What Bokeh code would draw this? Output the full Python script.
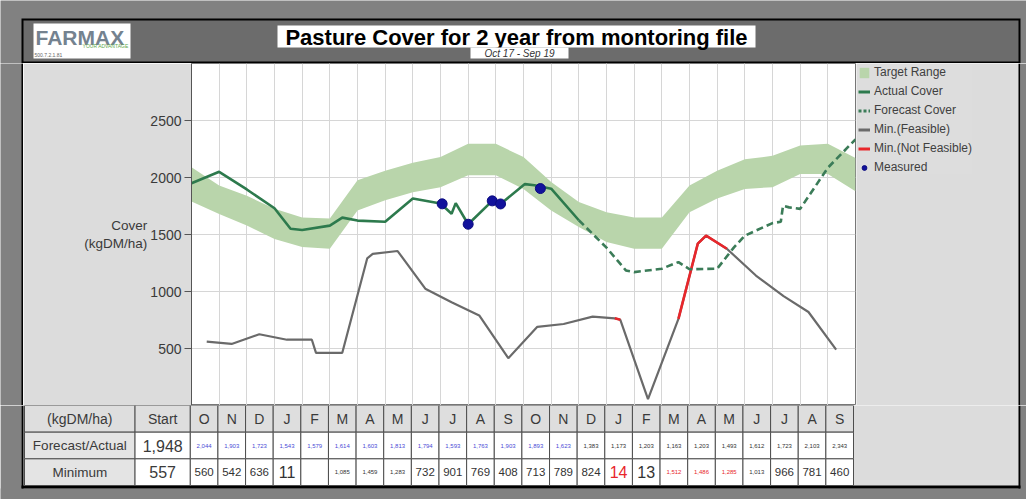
from bokeh.plotting import figure
from bokeh.layouts import column, row
from bokeh.models import (Range1d, FixedTicker, Grid, Legend, LegendItem,
                          ColumnDataSource)
from bokeh.core.properties import value
from bokeh.embed import file_html
from bokeh.resources import INLINE

FONT = "Liberation Sans"
NAN = float("nan")

# ---------------- data ----------------
month_labels = ["O", "N", "D", "J", "F", "M", "A", "M", "J", "J", "A", "S",
                "O", "N", "D", "J", "F", "M", "A", "M", "J", "J", "A", "S"]

band_x = list(range(25))
band_upper = [2090, 1930, 1840, 1725, 1650, 1640, 1975, 2060, 2130, 2180, 2295, 2295,
              2180, 1960, 1785, 1695, 1650, 1650, 1930, 2060, 2160, 2190, 2280, 2295, 2170]
band_lower = [1790, 1680, 1580, 1460, 1390, 1375, 1710, 1800, 1870, 1915, 2020, 2020,
              1900, 1710, 1565, 1435, 1375, 1375, 1695, 1815, 1900, 1915, 2030, 2030, 1880]

actual_x = [0, 1, 2, 3, 3.58, 4, 5, 5.45, 6, 7, 8, 9, 9.4, 9.55, 10, 10.87, 11.17,
            12.05, 12.4, 13, 14]
actual_y = [1950, 2050, 1895, 1730, 1550, 1540, 1578, 1648, 1622, 1612, 1815, 1772,
            1682, 1775, 1590, 1795, 1768, 1942, 1932, 1902, 1625]

forecast_x = [14, 15, 15.7, 16, 17, 17.6, 18, 19, 19.6, 20, 21, 21.3, 21.38, 21.6,
              22, 23, 24]
forecast_y = [1625, 1385, 1185, 1170, 1200, 1258, 1195, 1200, 1385, 1490, 1600, 1612,
              1752, 1738, 1725, 2085, 2335]

measured_x = [9.06, 10.0, 10.87, 11.17, 12.61]
measured_y = [1769, 1590, 1795, 1768, 1903]

min_x = [0.55, 1.45, 2.45, 3.45, 4.35, 4.5, 5.45, 6.35, 6.55, 7.45, 8.45, 9.4, 10.4,
         11.45, 12.5, 13.45, 14.5, 15.3, 15.5, 16.5, 17.6, 18.3, 18.6, 19.35, 20.4,
         21.4, 22.3, 23.3]
min_y = [560, 540, 625, 577, 577, 462, 462, 1290, 1330, 1355, 1025, 905, 790,
         415, 690, 715, 780, 765, 752, 55, 760, 1420, 1490, 1375, 1140,
         960, 820, 490]

infeasible_x = [15.3, 15.5, NAN, 17.6, 18.3, 18.6, 19.35]
infeasible_y = [765, 752, NAN, 760, 1420, 1490, 1375]

y_ticks = [500, 1000, 1500, 2000, 2500]

legend_labels = ["Target Range", "Actual Cover", "Forecast Cover", "Min.(Feasible)",
                 "Min.(Not Feasible)", "Measured"]

start_forecast = "1,948"
start_minimum = "557"
forecast_text = ["2,044", "1,903", "1,723", "1,543", "1,579", "1,614", "1,603", "1,813",
                 "1,794", "1,593", "1,763", "1,903", "1,893", "1,623", "1,383", "1,173",
                 "1,203", "1,163", "1,203", "1,493", "1,612", "1,723", "2,103", "2,343"]
forecast_is_actual = [True] * 14 + [False] * 10
minimum_text = ["560", "542", "636", "11", "", "1,085", "1,459", "1,283", "732", "901",
                "769", "408", "713", "789", "824", "14", "13", "1,512", "1,486", "1,285",
                "1,013", "966", "781", "460"]
minimum_kind = ["n", "n", "n", "big", "n", "tiny", "tiny", "tiny", "n", "n",
                "n", "n", "n", "n", "n", "bigred", "big", "tinyred", "tinyred", "tinyred",
                "tiny", "n", "n", "n"]

# ---------------- styling ----------------
OUTER = "#818181"
HEADER = "#6c6c6c"
PANEL = "#dcdcdc"
TXT = "#3a3a3a"
BAND_C, ACT_C, FC_C, MIN_C, INF_C, MEAS_C = ("#b9d5ab", "#2d7a4d", "#3b7c58",
                                             "#6a6a6a", "#e8262b", "#12129c")


def no_align(f):
    if hasattr(f, "frame_align"):
        f.frame_align = False
    return f


def deco(w, h, bg):
    f = figure(width=w, height=h, x_range=Range1d(0, w), y_range=Range1d(h, 0),
               toolbar_location=None, output_backend="svg", min_border=0,
               x_axis_location=None, y_axis_location=None,
               background_fill_color=bg, border_fill_color=bg, outline_line_color=None)
    for g in f.grid:
        g.visible = False
    return no_align(f)


def box(f, l, r, t, b, color):
    f.quad(left=l, right=r, top=t, bottom=b, fill_color=color, line_color=None)


# ---------------- header (page y 0..63) ----------------
header = deco(1026, 63, OUTER)
box(header, 21, 1020, 18, 63, "black")
box(header, 23, 1018, 20, 61, HEADER)
box(header, 33, 130, 23, 58, "white")
header.text(x=[35], y=[25], text=["FARMAX"], text_font=value(FONT), text_font_style="bold",
            text_font_size="21px", text_color="#74828f", text_baseline="top")
header.text(x=[128], y=[42], text=["YOUR ADVANTAGE"], text_font=value(FONT),
            text_font_size="5px", text_color="#5fa84a", text_align="right", text_baseline="top")
header.text(x=[34], y=[52], text=["500.7.2.1.81"], text_font=value(FONT),
            text_font_size="5px", text_color="#666666", text_baseline="top")
box(header, 277, 755, 25, 47, "white")
header.text(x=[516], y=[36.5], text=["Pasture Cover for 2 year from montoring file"],
            text_font=value(FONT), text_font_style="bold", text_font_size="22px",
            text_color="black", text_align="center", text_baseline="middle")
box(header, 470, 568, 47, 58, "white")
header.text(x=[519], y=[52.5], text=["Oct 17 - Sep 19"], text_font=value(FONT),
            text_font_style="italic", text_font_size="10px", text_color="#333333",
            text_align="center", text_baseline="middle")

# ---------------- middle row (page y 63..405) ----------------
left_strip = deco(23, 342, OUTER)
box(left_strip, 21, 23, 0, 342, "black")

p = figure(width=833, height=342, x_range=Range1d(0, 24), y_range=Range1d(0, 3000),
           toolbar_location=None, output_backend="svg", x_axis_location=None,
           min_border_left=168, min_border_right=1, min_border_top=0, min_border_bottom=0,
           background_fill_color="white", border_fill_color=PANEL,
           outline_line_color="#777777")
no_align(p)
p.ygrid.ticker = FixedTicker(ticks=y_ticks)
p.ygrid.grid_line_color = "#d6d6d6"
p.add_layout(Grid(dimension=0, ticker=FixedTicker(ticks=band_x), grid_line_color="#d6d6d6"))

p.varea(x=band_x, y1=band_lower, y2=band_upper, fill_color=BAND_C)
p.line(min_x, min_y, line_color=MIN_C, line_width=2.2)
p.line(infeasible_x, infeasible_y, line_color=INF_C, line_width=2.6)
p.line(forecast_x, forecast_y, line_color=FC_C, line_width=2.6, line_dash="7 4")
p.line(actual_x, actual_y, line_color=ACT_C, line_width=2.6)
p.scatter(measured_x, measured_y, size=10, fill_color=MEAS_C, line_color="#0b0b80")

ax = p.yaxis[0]
ax.ticker = FixedTicker(ticks=y_ticks)
ax.major_label_text_font = FONT
ax.major_label_text_font_size = "14px"
ax.major_label_text_color = TXT
ax.major_tick_out = 7
ax.major_tick_in = 0
ax.minor_tick_out = 0
ax.minor_tick_in = 0
ax.major_label_standoff = 3
ax.axis_line_color = "#555555"
ax.major_tick_line_color = "#555555"
ax.axis_label = "Cover\n(kgDM/ha)"
ax.axis_label_orientation = "horizontal"
ax.axis_label_text_font = FONT
ax.axis_label_text_font_style = "normal"
ax.axis_label_text_font_size = "13.5px"
ax.axis_label_text_color = TXT
ax.axis_label_standoff = 0

# legend panel (page x 856..1026); legend swatches are proxies kept outside the frame
lg = deco(170, 342, PANEL)
box(lg, 162, 164, 0, 342, "black")
box(lg, 164, 170, 0, 342, OUTER)
PX = [-50, -40]
PY = [-50, -40]
l_band = lg.varea(x=PX, y1=PY, y2=PY, fill_color=BAND_C)
l_act = lg.line(x=PX, y=PY, line_color=ACT_C, line_width=3)
l_fc = lg.line(x=PX, y=PY, line_color=FC_C, line_width=3, line_dash="3 2")
l_min = lg.line(x=PX, y=PY, line_color=MIN_C, line_width=3)
l_inf = lg.line(x=PX, y=PY, line_color=INF_C, line_width=3)
l_meas = lg.scatter(x=PX, y=PY, size=8, fill_color=MEAS_C, line_color="#0b0b80")
legend = Legend(items=[LegendItem(label=lab, renderers=[r]) for lab, r in
                       zip(legend_labels, [l_band, l_act, l_fc, l_min, l_inf, l_meas])],
                location="top_left", label_text_font=FONT, label_text_font_size="12px",
                label_text_color="#404040", glyph_width=12, glyph_height=13,
                label_height=13, spacing=5, padding=3, margin=2, label_standoff=4,
                background_fill_color=PANEL, border_line_color=None)
lg.add_layout(legend)

mid_row = row(left_strip, p, lg, spacing=0)

# ---------------- table (page y 405..499) ----------------
X0_PX, X1_PX, NCOL = 24, 853, 30      # columns -6..24 span page x 24..853
Y0_PX, ROW_PX = 405, 80 / 3           # three rows from page y 405 to 485


def tx(px):
    return -6 + (px - X0_PX) * NCOL / (X1_PX - X0_PX)


def ty(py):
    return (py - Y0_PX) / ROW_PX


t = figure(width=1026, height=94, x_range=Range1d(tx(0), tx(1026)),
           y_range=Range1d(ty(499), ty(405)), toolbar_location=None, output_backend="svg",
           x_axis_location=None, y_axis_location=None, min_border=0,
           background_fill_color=PANEL, border_fill_color=PANEL, outline_line_color=None)
no_align(t)
for g in t.grid:
    g.visible = False

box(t, tx(0), tx(21), ty(405), ty(499), OUTER)
box(t, tx(1020), tx(1026), ty(405), ty(499), OUTER)
box(t, tx(0), tx(1026), ty(488), ty(499), OUTER)
box(t, tx(21), tx(23), ty(405), ty(488), "black")
box(t, tx(1018), tx(1020), ty(405), ty(488), "black")
box(t, tx(21), tx(1020), ty(485), ty(488), "black")

n = len(month_labels)
cells = dict(left=[], right=[], top=[], bottom=[], fill=[])


def add_cell(l, r, tp, b, fill):
    cells["left"].append(l); cells["right"].append(r)
    cells["top"].append(tp); cells["bottom"].append(b); cells["fill"].append(fill)


add_cell(-6, -2, 0, 1, "#dedede")
add_cell(-2, 0, 0, 1, "#dedede")
for i in range(n):
    add_cell(i, i + 1, 0, 1, "#dedede")
for rr in (1, 2):
    add_cell(-6, -2, rr, rr + 1, "#e4e4e4")
    add_cell(-2, 0, rr, rr + 1, "white")
    for i in range(n):
        add_cell(i, i + 1, rr, rr + 1, "white")
t.quad(left="left", right="right", top="top", bottom="bottom", fill_color="fill",
       line_color="#4d4d4d", line_width=1, source=ColumnDataSource(cells))

mid = [i + 0.5 for i in range(n)]
t.text(x=[-4, -1], y=[0.5, 0.5], text=["(kgDM/ha)", "Start"], text_font=value(FONT),
       text_font_size="14px", text_color=TXT, text_align="center", text_baseline="middle")
t.text(x=mid, y=[0.5] * n, text=month_labels, text_font=value(FONT),
       text_font_size="14px", text_color=TXT, text_align="center", text_baseline="middle")
t.text(x=[-4, -4], y=[1.5, 2.5], text=["Forecast/Actual", "Minimum"], text_font=value(FONT),
       text_font_size="13.5px", text_color=TXT, text_align="center", text_baseline="middle")
t.text(x=[-1, -1], y=[1.5, 2.5], text=[start_forecast, start_minimum], text_font=value(FONT),
       text_font_size="16px", text_color=TXT, text_align="center", text_baseline="middle")
t.text(x=mid, y=[1.5] * n, text=forecast_text, text_font=value(FONT), text_font_size="6px",
       text_color=["#4b4bd6" if a else "#333333" for a in forecast_is_actual],
       text_align="center", text_baseline="middle")
size_map = {"n": "11.5px", "big": "16px", "bigred": "16px", "tiny": "6px", "tinyred": "6px"}
color_map = {"n": "#333333", "big": "#333333", "bigred": "#e8262b", "tiny": "#333333",
             "tinyred": "#e8262b"}
t.text(x=mid, y=[2.5] * n, text=minimum_text, text_font=value(FONT),
       text_font_size=[size_map[k] for k in minimum_kind],
       text_color=[color_map[k] for k in minimum_kind],
       text_align="center", text_baseline="middle")

root = column(header, mid_row, t, spacing=0)

open("out.html", "w").write(file_html(root, INLINE))
